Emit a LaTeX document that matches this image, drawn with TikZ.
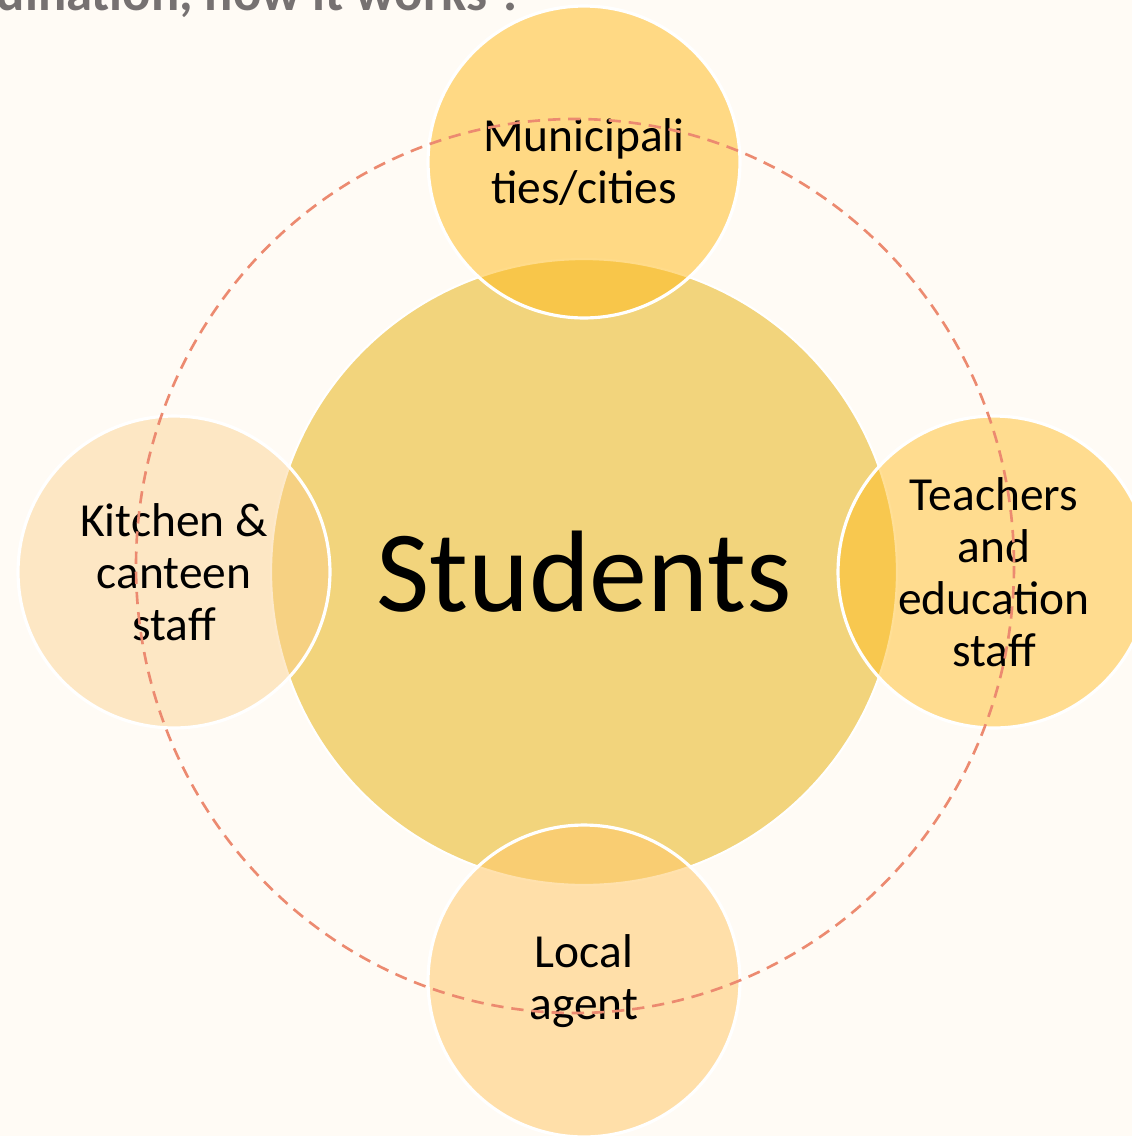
\documentclass[tikz,border=0pt]{standalone}
\usepackage{fontspec}
\setmainfont{Carlito}
\usepackage{tikz}
\usetikzlibrary{positioning}

\begin{document}
\begin{tikzpicture}[x=0.02cm, y=-0.02cm,
  hub/.style={circle, draw=white, line width=1.2pt, fill=hubyellow, inner sep=0pt,
    minimum size=12.52cm, font=\fontsize{66}{74}\selectfont},
  spoke/.style={circle, draw=white, line width=1.8pt, inner sep=0pt, minimum size=6.24cm,
    text opacity=1, align=center, font=\fontsize{27}{29.5}\selectfont},
  ring/.style={draw=ringred, line width=1.5pt, dash pattern=on 7pt off 4.5pt}]
  \definecolor{pagecream}{HTML}{FFFBF5}
  \definecolor{hubyellow}{HTML}{F2D47C}
  \definecolor{deepyellow}{HTML}{FFBB1E}
  \definecolor{softyellow}{HTML}{FFC96B}
  \definecolor{paleorange}{HTML}{FBCF8A}
  \definecolor{ringred}{HTML}{EC8A70}
  \definecolor{titlegray}{HTML}{767171}

  % page
  \fill[pagecream] (0,0) rectangle (1132,1136);
  \useasboundingbox (0,0) rectangle (1132,1136);
  \clip (0,0) rectangle (1132,1136);

  \node[anchor=base east, text=titlegray, font=\fontsize{30}{36}\selectfont\bfseries] (title) at (530,10) {dination, how it works ?};

  % centre and the four around it
  \node[hub] (students) at (584,572) {Students};
  \node[spoke, fill=deepyellow, fill opacity=0.52] (cities) at (584,162) {Municipali\\ties/cities};
  \node[spoke, fill=deepyellow, fill opacity=0.47] (teachers) at (994,572) {Teachers\\and\\education\\staff};
  \node[spoke, fill=softyellow, fill opacity=0.55] (agent) at (584,981) {Local\\agent};
  \node[spoke, fill=paleorange, fill opacity=0.45] (kitchen) at (174,572) {Kitchen \&\\canteen\\staff};

  % dashed ring
  \coordinate (ringmid) at (575,566);
  \draw[ring] (ringmid) ellipse [x radius=439, y radius=447];
\end{tikzpicture}
\end{document}
